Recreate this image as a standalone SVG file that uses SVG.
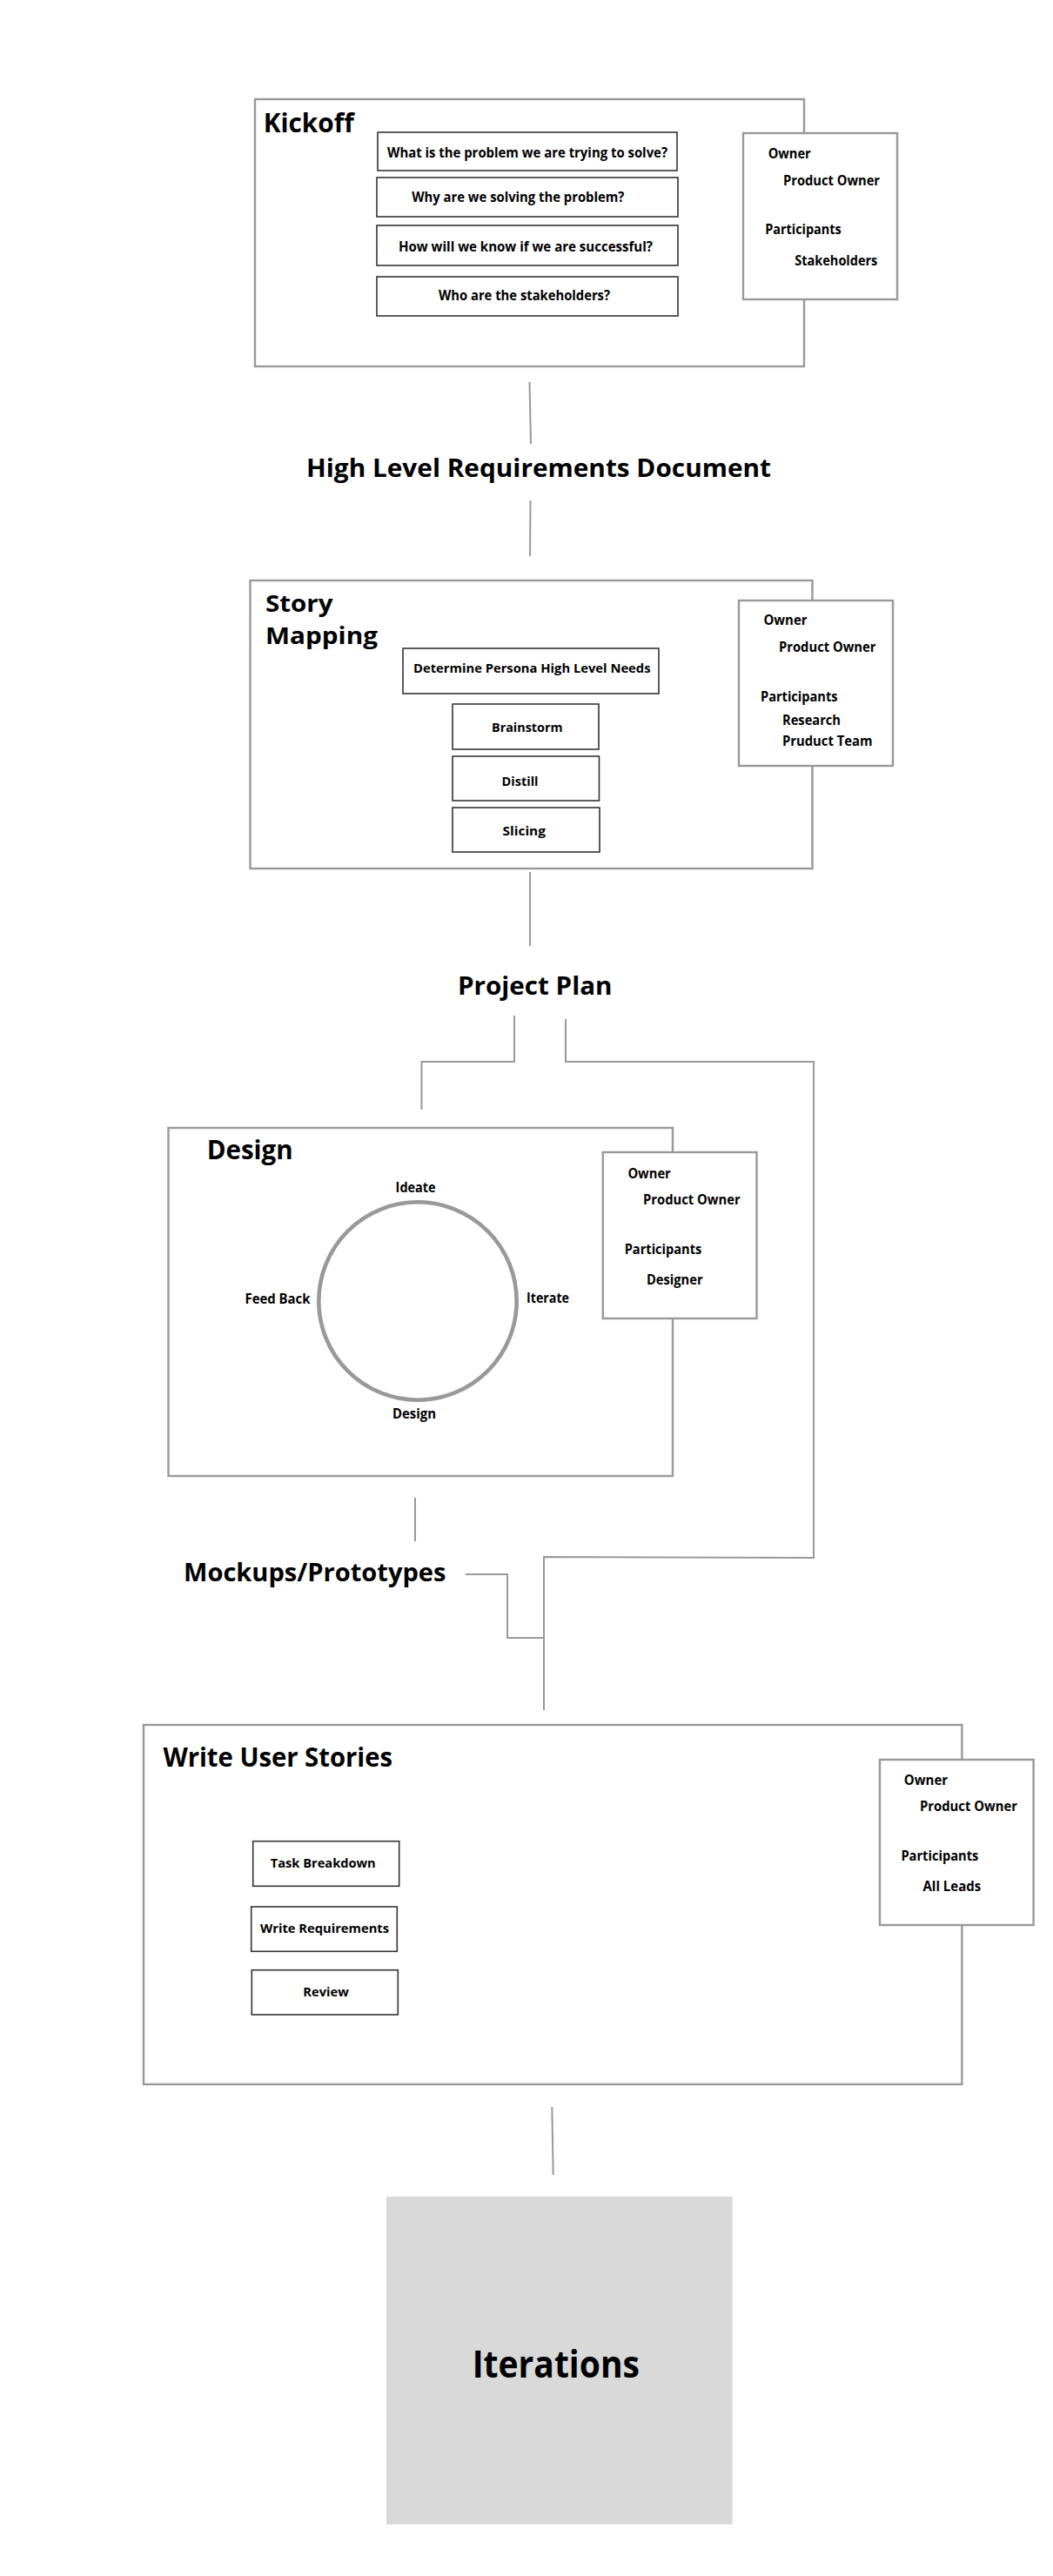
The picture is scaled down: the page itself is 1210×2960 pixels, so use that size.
<svg xmlns="http://www.w3.org/2000/svg" width="1210" height="2960" viewBox="0 0 1210 2960">
<style>
text{font-family:"Open Sans","Liberation Sans",sans-serif;font-weight:700;fill:#000;}
.title{font-size:30px;}
.title2{font-size:26px;}
.doc{font-size:29px;}
.q{font-size:16px;}
.s{font-size:15px;}
.r{font-size:15.5px;}
.frame{fill:#fff;stroke:#999;stroke-width:2.4;}
.side{fill:#fff;stroke:#999;stroke-width:2.4;}
.box{fill:#fff;stroke:#333;stroke-width:1.6;}
.conn{fill:none;stroke:#999;stroke-width:2;}
</style>
<rect width="1210" height="2960" fill="#fff"/>
<g id="connectors">
<line class="conn" x1="608.5" y1="439" x2="610" y2="510"/>
<line class="conn" x1="609.5" y1="575" x2="609" y2="639"/>
<line class="conn" x1="609" y1="1002" x2="609" y2="1087"/>
<polyline class="conn" points="591,1167 591,1220 484.5,1220 484.5,1275"/>
<polyline class="conn" points="650,1171 650,1220 935,1220 935,1790 625,1789 625,1965"/>
<line class="conn" x1="477" y1="1721" x2="477" y2="1771"/>
<polyline class="conn" points="535,1809 583,1809 583,1882 625,1882"/>
<line class="conn" x1="634.3" y1="2421" x2="635.7" y2="2499"/>
</g>
<g id="kickoff">
<rect class="frame" x="293" y="114" width="631" height="307"/>
<text class="title" x="302.7" y="151.7" textLength="104" lengthAdjust="spacingAndGlyphs">Kickoff</text>
<rect class="box" x="434" y="152" width="344" height="44"/>
<text class="q" x="445" y="181.3" textLength="322" lengthAdjust="spacingAndGlyphs">What is the problem we are trying to solve?</text>
<rect class="box" x="433" y="204" width="346" height="45"/>
<text class="q" x="473.3" y="232.3" textLength="244" lengthAdjust="spacingAndGlyphs">Why are we solving the problem?</text>
<rect class="box" x="433" y="259" width="346" height="46"/>
<text class="q" x="458" y="289" textLength="292" lengthAdjust="spacingAndGlyphs">How will we know if we are successful?</text>
<rect class="box" x="433" y="318" width="346" height="45"/>
<text class="q" x="504" y="345" textLength="197" lengthAdjust="spacingAndGlyphs">Who are the stakeholders?</text>
</g>
<g id="kickoff-roles">
<rect class="side" x="854" y="153" width="177" height="191"/>
<text class="r" x="882.7" y="181.7" textLength="49" lengthAdjust="spacingAndGlyphs">Owner</text>
<text class="r" x="900" y="212.7" textLength="111" lengthAdjust="spacingAndGlyphs">Product Owner</text>
<text class="r" x="879.3" y="269" textLength="87.4" lengthAdjust="spacingAndGlyphs">Participants</text>
<text class="r" x="913.3" y="305" textLength="95" lengthAdjust="spacingAndGlyphs">Stakeholders</text>
</g>
<g id="hlrd">
<text class="doc" x="352" y="548" textLength="534" lengthAdjust="spacingAndGlyphs">High Level Requirements Document</text>
</g>
<g id="story-mapping">
<rect class="frame" x="287.5" y="667" width="646" height="331"/>
<text class="title2" x="305" y="703" textLength="77.5" lengthAdjust="spacingAndGlyphs">Story</text>
<text class="title2" x="305" y="740" textLength="129" lengthAdjust="spacingAndGlyphs">Mapping</text>
<rect class="box" x="463" y="745" width="294" height="52"/>
<text class="s" x="475" y="773" textLength="272.5" lengthAdjust="spacingAndGlyphs">Determine Persona High Level Needs</text>
<rect class="box" x="520" y="809" width="168" height="52"/>
<text class="s" x="565" y="841" textLength="81.5" lengthAdjust="spacingAndGlyphs">Brainstorm</text>
<rect class="box" x="520" y="869" width="168.5" height="51"/>
<text class="s" x="576.5" y="903" textLength="42" lengthAdjust="spacingAndGlyphs">Distill</text>
<rect class="box" x="520" y="928" width="169" height="51"/>
<text class="s" x="577.5" y="960" textLength="49.5" lengthAdjust="spacingAndGlyphs">Slicing</text>
</g>
<g id="story-mapping-roles">
<rect class="side" x="849" y="690" width="177" height="190"/>
<text class="r" x="877.5" y="718" textLength="50" lengthAdjust="spacingAndGlyphs">Owner</text>
<text class="r" x="895" y="749" textLength="111.5" lengthAdjust="spacingAndGlyphs">Product Owner</text>
<text class="r" x="874" y="806" textLength="88.5" lengthAdjust="spacingAndGlyphs">Participants</text>
<text class="r" x="899" y="833" textLength="67" lengthAdjust="spacingAndGlyphs">Research</text>
<text class="r" x="899" y="857" textLength="103.5" lengthAdjust="spacingAndGlyphs">Pruduct Team</text>
</g>
<g id="project-plan">
<text class="doc" x="526" y="1143" textLength="177.5" lengthAdjust="spacingAndGlyphs">Project Plan</text>
</g>
<g id="design">
<rect class="frame" x="193.5" y="1296" width="579.5" height="400"/>
<text class="title" x="237.7" y="1332" textLength="99" lengthAdjust="spacingAndGlyphs">Design</text>
<circle cx="480" cy="1495" r="113.7" fill="none" stroke="#999" stroke-width="4.6"/>
<text class="q" x="454.6" y="1370" textLength="46" lengthAdjust="spacingAndGlyphs">Ideate</text>
<text class="q" x="281.5" y="1497.7" textLength="75" lengthAdjust="spacingAndGlyphs">Feed Back</text>
<text class="q" x="605" y="1496.7" textLength="49" lengthAdjust="spacingAndGlyphs">Iterate</text>
<text class="q" x="451" y="1630" textLength="50" lengthAdjust="spacingAndGlyphs">Design</text>
</g>
<g id="design-roles">
<rect class="side" x="692.8" y="1324" width="176.7" height="191"/>
<text class="r" x="721.4" y="1354" textLength="49.4" lengthAdjust="spacingAndGlyphs">Owner</text>
<text class="r" x="739" y="1384" textLength="111.6" lengthAdjust="spacingAndGlyphs">Product Owner</text>
<text class="r" x="717.7" y="1441" textLength="88.6" lengthAdjust="spacingAndGlyphs">Participants</text>
<text class="r" x="743" y="1476" textLength="64.6" lengthAdjust="spacingAndGlyphs">Designer</text>
</g>
<g id="mockups">
<text class="doc" x="211" y="1817" textLength="301.5" lengthAdjust="spacingAndGlyphs">Mockups/Prototypes</text>
</g>
<g id="write-user-stories">
<rect class="frame" x="165" y="1982" width="940.4" height="413"/>
<text class="title" x="187.4" y="2030" textLength="263.6" lengthAdjust="spacingAndGlyphs">Write User Stories</text>
<rect class="box" x="290.7" y="2115.7" width="168" height="51.6"/>
<text class="s" x="310.7" y="2145.7" textLength="121" lengthAdjust="spacingAndGlyphs">Task Breakdown</text>
<rect class="box" x="288.7" y="2191" width="167.6" height="51.3"/>
<text class="s" x="299" y="2220.7" textLength="148" lengthAdjust="spacingAndGlyphs">Write Requirements</text>
<rect class="box" x="289.3" y="2263.7" width="168" height="51.3"/>
<text class="s" x="348.3" y="2293.7" textLength="52.4" lengthAdjust="spacingAndGlyphs">Review</text>
</g>
<g id="write-user-stories-roles">
<rect class="side" x="1011" y="2022" width="176.6" height="190"/>
<text class="r" x="1038.8" y="2050.7" textLength="50.3" lengthAdjust="spacingAndGlyphs">Owner</text>
<text class="r" x="1057" y="2080.7" textLength="112" lengthAdjust="spacingAndGlyphs">Product Owner</text>
<text class="r" x="1035.4" y="2137.7" textLength="89" lengthAdjust="spacingAndGlyphs">Participants</text>
<text class="r" x="1060.5" y="2172.7" textLength="66.6" lengthAdjust="spacingAndGlyphs">All Leads</text>
</g>
<g id="iterations">
<rect x="444" y="2524" width="397.7" height="376.7" fill="#d9d9d9"/>
<text x="542.7" y="2731.7" textLength="192.3" lengthAdjust="spacingAndGlyphs" style="font-size:43px">Iterations</text>
</g>
</svg>
